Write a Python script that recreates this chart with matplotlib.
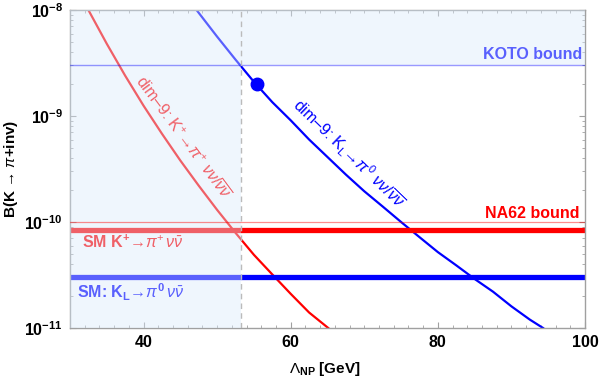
import numpy as np
import matplotlib
matplotlib.use('Agg')
import matplotlib.pyplot as plt
from matplotlib.ticker import MultipleLocator, LogLocator, NullFormatter

plt.rcParams['font.family'] = ['Liberation Sans', 'DejaVu Sans']
plt.rcParams['mathtext.fontset'] = 'custom'
plt.rcParams['mathtext.rm'] = 'Liberation Sans'
plt.rcParams['mathtext.it'] = 'Liberation Sans:italic'
plt.rcParams['mathtext.bf'] = 'Liberation Sans:bold'

# dim-9 K+ -> pi+ nu nu 曲線 (読み取り値)
lam_kp = [32.5, 35, 37.5, 40, 42.5, 45, 47.5, 50, 52.5, 55, 57.5, 60, 62.5, 65.1]
br_kp = [1.0e-8, 4.8e-9, 2.4e-9, 1.25e-9, 6.8e-10, 3.8e-10, 2.2e-10, 1.3e-10,
         7.9e-11, 4.9e-11, 3.2e-11, 2.1e-11, 1.4e-11, 1.0e-11]

# dim-9 KL -> pi0 nu nu 曲線
lam_kl = [47.2, 50, 52.5, 55, 57.5, 60, 62.5, 65, 67.5, 70, 72.5, 75, 77.5, 80,
          82.5, 85, 87.5, 90, 92.5, 94.3]
br_kl = [1.0e-8, 5.6e-9, 3.4e-9, 2.1e-9, 1.35e-9, 9.1e-10, 6.0e-10, 4.1e-10,
         2.8e-10, 1.95e-10, 1.4e-10, 1.0e-10, 7.2e-11, 5.2e-11, 3.9e-11, 2.9e-11,
         2.2e-11, 1.6e-11, 1.2e-11, 1.0e-11]

# 水平線
koto_bound = 3.0e-9
na62_bound = 1.0e-10
sm_kp = 8.4e-11
sm_kl = 3.0e-11
lam_cut = 53.3
bench = (55.4, 2.0e-9)

xmin, xmax = 30, 100
ymin, ymax = 1e-11, 1e-8

fig = plt.figure(figsize=(5.99, 3.82), dpi=100)
ax = fig.add_axes([70/599, 1-328/382, 515/599, 318/382])
ax.set_yscale('log')
ax.set_xlim(xmin, xmax)
ax.set_ylim(ymin, ymax)

red = '#ff0000'
blue = '#0000ff'
fs = 11.5

#曲線とバンド
ax.plot(lam_kp, br_kp, color=red, lw=1.6, zorder=2)
ax.plot(lam_kl, br_kl, color=blue, lw=1.6, zorder=2)
ax.axhline(sm_kp, color=red, lw=3.8, zorder=2)
ax.axhline(sm_kl, color=blue, lw=3.8, zorder=2)

#ラベル
ax.text(45.18, 6.2e-10, r'dim–9: K$^{+}$→$\pi^{+}$ $\nu\nu/\overline{\nu\nu}$',
        color=red, fontsize=fs, rotation=-53.4, rotation_mode='anchor',
        ha='center', va='center', zorder=3)
ax.text(67.83, 4.45e-10, r'dim–9: K$_{\rm L}$→$\pi^{0}$ $\nu\nu/\overline{\nu\nu}$',
        color=blue, fontsize=fs, rotation=-44, rotation_mode='anchor',
        ha='center', va='center', zorder=3)
ax.text(99.69, 3.82e-9, 'KOTO bound', color=blue, fontsize=fs, fontweight='bold',
        ha='right', va='center', zorder=3)
ax.text(99.19, 1.19e-10, 'NA62 bound', color=red, fontsize=fs, fontweight='bold',
        ha='right', va='center', zorder=8)
ax.text(31.59, 6.47e-11, r'SM K$^{\mathbf{+}}$→$\pi^{+}\,\nu\bar{\nu}$',
        color=red, fontsize=fs, fontweight='bold', ha='left', va='center', zorder=3)
ax.text(30.91, 2.19e-11, r'SM: K$_{\mathbf{L}}$→$\pi^{\mathbf{0}}\,\nu\bar{\nu}$',
        color=blue, fontsize=fs, fontweight='bold', ha='left', va='center', zorder=3)

#除外領域(L字型)の半透明オーバーレイ
ax.fill([xmin, lam_cut, lam_cut, xmax, xmax, xmin],
        [ymin, ymin, koto_bound, koto_bound, ymax, ymax],
        color=(218/255, 234/255, 252/255), alpha=0.41, lw=0, zorder=5)

ax.axhline(koto_bound, color=blue, alpha=0.4, lw=1.0, zorder=6)
ax.axhline(na62_bound, color=red, alpha=0.45, lw=0.9, zorder=6)
ax.axvline(lam_cut, color='#bbbbbb', lw=1.0, ls=(0, (4, 3)), zorder=6)
ax.plot([bench[0]], [bench[1]], 'o', color=blue, ms=9, zorder=7)

#軸の体裁
for s in ax.spines.values():
    s.set_color('#a0a0a0')
    s.set_linewidth(1.0)
ax.set_xticks([40, 60, 80, 100])
ax.set_xticklabels(['40', '60', '80', '100'], fontweight='bold', fontsize=fs)
ax.xaxis.set_minor_locator(MultipleLocator(2))
ax.set_yticks([1e-11, 1e-10, 1e-9, 1e-8])
ax.set_yticklabels([r'$\mathbf{10^{-11}}$', r'$\mathbf{10^{-10}}$',
                    r'$\mathbf{10^{-9}}$', r'$\mathbf{10^{-8}}$'], fontsize=fs)
ax.yaxis.set_minor_locator(LogLocator(base=10, subs=np.arange(2, 10)))
ax.yaxis.set_minor_formatter(NullFormatter())
ax.tick_params(which='both', direction='in', color='#a0a0a0', top=True, right=True)
ax.tick_params(which='major', length=4.5, width=0.8, pad=5)
ax.tick_params(which='minor', length=2.5, width=0.6)

ax.set_xlabel(r'$\Lambda_{\mathbf{NP}}$ [GeV]', fontsize=11, fontweight='bold')
ax.xaxis.set_label_coords(0.495, -0.100)
ax.set_ylabel(r'B(K → $\pi$+inv)', fontsize=11, fontweight='bold')
ax.yaxis.set_label_coords(-0.097, 0.5)

plt.savefig('out.png', dpi=100)
